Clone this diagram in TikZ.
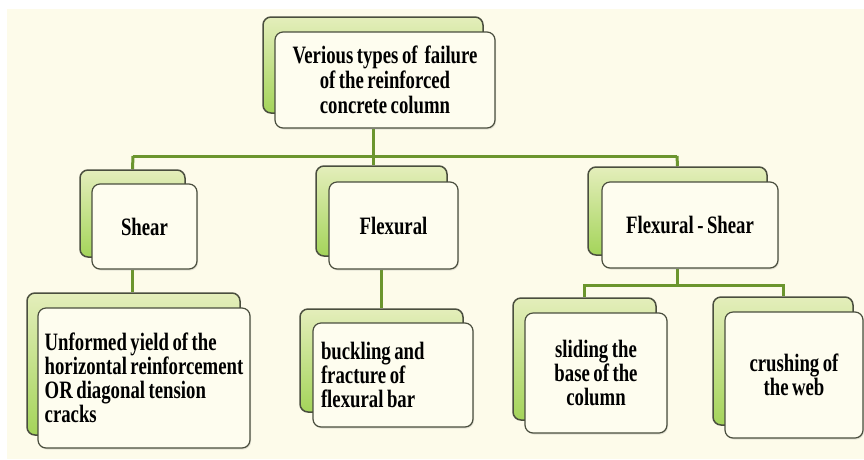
\documentclass[tikz,border=0pt]{standalone}
\usepackage{fontspec}
\setmainfont{Liberation Serif}[FakeStretch=0.75, WordSpace={0.75,0,0}]
\usetikzlibrary{shadows,backgrounds}
\definecolor{cream}{HTML}{FDFBEA}
\definecolor{paper}{HTML}{FEFDEF}
\definecolor{leaf}{HTML}{A4D45A}
\definecolor{paleleaf}{HTML}{E4EEBB}
\definecolor{olive}{HTML}{6B952E}
\definecolor{rim}{HTML}{4A4E3E}

\begin{document}
\begin{tikzpicture}
[x=1pt, y=-1pt,
 every node/.style={color=black, font=\bfseries\fontsize{25}{24}\selectfont},
 backbox/.style={draw=rim, line width=1.5pt, rounded corners=8pt,
   top color=paleleaf, bottom color=leaf},
 frontbox/.style={draw=rim, line width=1.2pt, rounded corners=8pt, fill=paper,
   drop shadow={opacity=0.2, shadow xshift=1pt, shadow yshift=-1.5pt}},
 link/.style={draw=olive, line width=3pt}]
    \useasboundingbox (0,0) rectangle (864,459);
    \coordinate (busL) at (133,156);
    \coordinate (busR) at (677,156);
    \coordinate (fsjoin) at (677,285);
    % top box
    \node[backbox, minimum width=220, minimum height=96] (topb) at (373,65) {};
    \node[frontbox, minimum width=220, minimum height=96, align=center,
        font=\bfseries\fontsize{25}{25}\selectfont] (top) at (385,80)
        {Verious types of\ \ failure\\of the reinforced\\concrete column};
    % second row
    \node[backbox, minimum width=105, minimum height=87] (shearb) at (132.5,213.5) {};
    \node[frontbox, minimum width=105, minimum height=85] (shear) at (144.5,226.5) {Shear};
    \node[backbox, minimum width=131, minimum height=90] (flexb) at (381.5,211) {};
    \node[frontbox, minimum width=129, minimum height=87] (flex) at (393.5,225.5) {Flexural};
    \node[backbox, minimum width=179, minimum height=88] (fsb) at (677.5,211) {};
    \node[frontbox, minimum width=176, minimum height=86] (fs) at (690,225) {Flexural - Shear};
    % third row
    \node[backbox, minimum width=213, minimum height=142] (unfb) at (133.5,364) {};
    \node[frontbox, minimum width=212, minimum height=140, align=left] (unf) at (144,378)
        {Unformed yield of the\\horizontal reinforcement\\OR diagonal tension\\cracks};
    \node[backbox, minimum width=163, minimum height=103] (buckb) at (381.5,360.5) {};
    \node[frontbox, minimum width=160, minimum height=104, text width=144,
        inner xsep=8pt, align=left] (buck) at (393,375)
        {\spaceskip=0pt buckling and\\fracture of\\flexural bar};
    \node[backbox, minimum width=143, minimum height=122] (slideb) at (584.5,359) {};
    \node[frontbox, minimum width=142, minimum height=120, align=center] (slide) at (596,373)
        {sliding the\\base of the\\column};
    \node[backbox, minimum width=140, minimum height=128] (crushb) at (783,361) {};
    \node[frontbox, minimum width=138, minimum height=126, align=center] (crush) at (794,375)
        {crushing of\\the web};
    % connectors
    \begin{pgfonlayer}{background}
    \fill[cream] (7,9) rectangle (864,459);
    \draw[link] (busL) -- (busR);
    \draw[link] (topb.south |- top.south) -- (topb.south |- busL);
    \draw[link] (busL) -- (shearb.north);
    \draw[link] (topb.south |- busL) -- (topb.south |- flexb.north);
    \draw[link] (busR) -- (fsb.north);
    \draw[link] (shearb.south |- shear.south) -- (shearb.south |- unfb.north);
    \draw[link] (buckb.north |- flex.south) -- (buckb.north);
    \draw[link] (fs.south -| busR) -- (fsjoin);
    \draw[link] (slideb.north) |- (fsjoin) -| (crushb.north);
    \end{pgfonlayer}
\end{tikzpicture}
\end{document}
